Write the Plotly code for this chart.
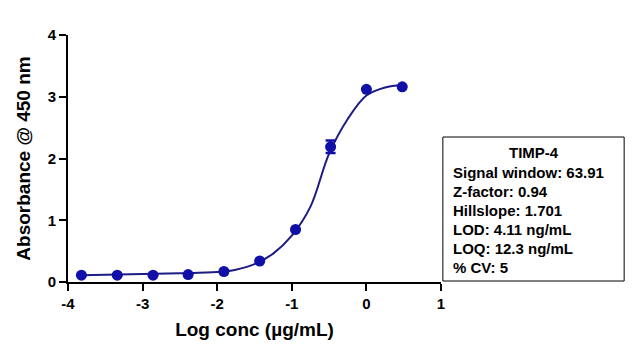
import plotly.graph_objects as go

# Measured points (log concentration, absorbance)
log_conc = [-3.82, -3.34, -2.86, -2.39, -1.91, -1.43, -0.95, -0.48, 0.0, 0.48]
absorbance = [0.11, 0.11, 0.11, 0.12, 0.17, 0.34, 0.85, 2.19, 3.12, 3.16]
abs_err = [0, 0, 0, 0, 0, 0, 0, 0.1, 0, 0]

# Fitted curve
fit_x = [-3.82, -3.0, -2.5, -2.0, -1.75, -1.5, -1.25, -1.0, -0.75, -0.5, -0.25, 0.0, 0.25, 0.48]
fit_y = [0.11, 0.13, 0.14, 0.16, 0.2, 0.29, 0.46, 0.75, 1.22, 2.08, 2.64, 3.02, 3.15, 3.19]

x_ticks = [-4, -3, -2, -1, 0, 1]
y_ticks = [0, 1, 2, 3, 4]

info_title = "TIMP-4"
info_lines = ["Signal window: 63.91", "Z-factor: 0.94", "Hillslope: 1.701",
              "LOD: 4.11 ng/mL", "LOQ: 12.3 ng/mL", "% CV: 5"]

FONT = "Liberation Sans, Arial, sans-serif"
LINE = "#1c1c84"
MARK = "#1010a8"

fig = go.Figure()
fig.add_trace(go.Scatter(x=fit_x, y=fit_y, mode="lines", line=dict(color=LINE, width=2, shape="spline"),
                         hoverinfo="skip", showlegend=False))
fig.add_trace(go.Scatter(x=log_conc, y=absorbance, mode="markers",
                         marker=dict(color=MARK, size=11),
                         error_y=dict(type="data", array=abs_err, color=MARK, thickness=2.5, width=5),
                         showlegend=False))

# page body has an 8px margin, so the figure is offset by (8, 8)
fig.update_layout(
    width=619, height=339,
    margin=dict(l=60, r=186, t=27, b=65),
    paper_bgcolor="white", plot_bgcolor="white",
    font=dict(family=FONT, color="black"),
    xaxis=dict(range=[-4, 1], tickvals=x_ticks, ticktext=["<b>%d</b>" % v for v in x_ticks],
               showgrid=False, zeroline=False, showline=True, linecolor="black", linewidth=2,
               ticks="outside", ticklen=7, tickwidth=2, tickcolor="black", automargin=False,
               tickfont=dict(size=15, family=FONT),
               title=dict(text="<b>Log conc (µg/mL)</b>", font=dict(size=19, family=FONT), standoff=12)),
    yaxis=dict(range=[0, 4], tickvals=y_ticks, ticktext=["<b>%d</b>" % v for v in y_ticks],
               showgrid=False, zeroline=False, showline=True, linecolor="black", linewidth=2,
               ticks="outside", ticklen=7, tickwidth=2, tickcolor="black", automargin=False,
               tickfont=dict(size=15, family=FONT),
               title=dict(text="<b>Absorbance @ 450 nm</b>", font=dict(size=19, family=FONT), standoff=12)),
)

# Info box
fig.add_shape(type="rect", xref="paper", yref="paper", x0=1.005, x1=1.491, y0=0.004, y1=0.587,
              line=dict(color="black", width=1), fillcolor="white")
fig.add_annotation(xref="paper", yref="paper", x=1.248, y=0.523, text="<b>" + info_title + "</b>",
                   showarrow=False, xanchor="center", yanchor="middle", font=dict(size=15, family=FONT))
for i, t in enumerate(info_lines):
    fig.add_annotation(xref="paper", yref="paper", x=1.028, y=0.442 - i * 0.0765, text="<b>" + t + "</b>",
                       showarrow=False, xanchor="left", yanchor="middle", font=dict(size=15, family=FONT))

fig.write_html("out.html")
